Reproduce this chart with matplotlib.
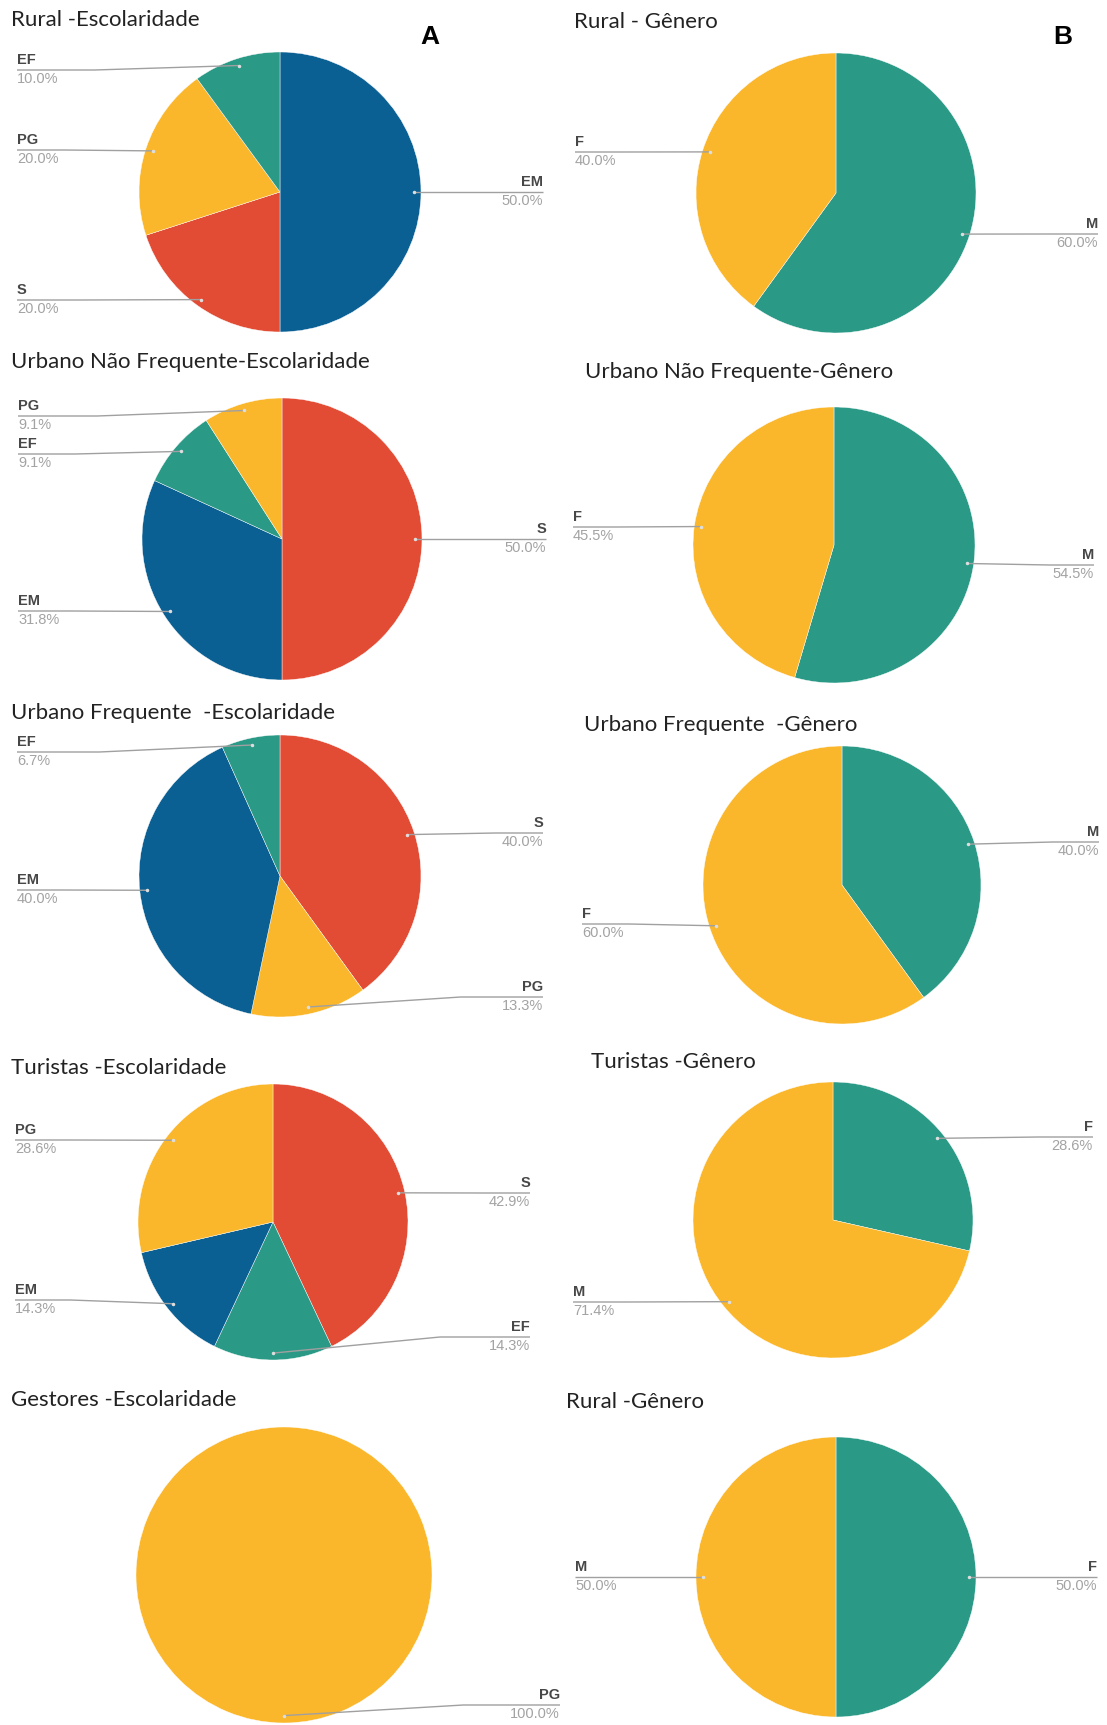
import math
import matplotlib
matplotlib.use("Agg")
import matplotlib.pyplot as plt

W, H = 1107, 1725

# A - Escolaridade (slices listed clockwise from 12 o'clock)
rural_esc_labels = ["EM", "S", "PG", "EF"]
rural_esc_values = [50.0, 20.0, 20.0, 10.0]
urb_nf_esc_labels = ["S", "EM", "EF", "PG"]
urb_nf_esc_values = [50.0, 31.8, 9.1, 9.1]
urb_f_esc_labels = ["S", "PG", "EM", "EF"]
urb_f_esc_values = [40.0, 13.3, 40.0, 6.7]
tur_esc_labels = ["S", "EF", "EM", "PG"]
tur_esc_values = [42.9, 14.3, 14.3, 28.6]
gest_esc_labels = ["PG"]
gest_esc_values = [100.0]

# B - Gênero
rural_gen_labels = ["M", "F"]
rural_gen_values = [60.0, 40.0]
urb_nf_gen_labels = ["M", "F"]
urb_nf_gen_values = [54.5, 45.5]
urb_f_gen_labels = ["M", "F"]
urb_f_gen_values = [40.0, 60.0]
tur_gen_labels = ["F", "M"]
tur_gen_values = [28.6, 71.4]
rural2_gen_labels = ["F", "M"]
rural2_gen_values = [50.0, 50.0]

blue = "#0A5F93"
red = "#E24B34"
yellow = "#FBB72B"
teal = "#2A9986"
esc_colors = {"EM": blue, "S": red, "PG": yellow, "EF": teal}
gen_colors = [teal, yellow]

name_color = "#474747"
pct_color = "#a3a3a3"
line_color = "#a0a0a0"

# layout: title, title pos, ellipse (cx, cy, rx, ry), label text x (left, right),
# per slice: side and leader line y (pixels, from top)
panels = [
    dict(title="Rural -Escolaridade", tpos=(11, 20), ell=(280, 192, 141, 140), tx=(17, 543),
         labels=rural_esc_labels, values=rural_esc_values,
         colors=[esc_colors[l] for l in rural_esc_labels],
         lab=[("R", 192), ("L", 300), ("L", 150), ("L", 70)]),
    dict(title="Urbano Não Frequente-Escolaridade", tpos=(11, 362), ell=(282, 539, 140, 141), tx=(18, 546),
         labels=urb_nf_esc_labels, values=urb_nf_esc_values,
         colors=[esc_colors[l] for l in urb_nf_esc_labels],
         lab=[("R", 539), ("L", 611), ("L", 454), ("L", 416)]),
    dict(title="Urbano Frequente  -Escolaridade", tpos=(11, 713), ell=(280, 876, 141, 141), tx=(17, 543),
         labels=urb_f_esc_labels, values=urb_f_esc_values,
         colors=[esc_colors[l] for l in urb_f_esc_labels],
         lab=[("R", 833), ("R", 997), ("L", 890), ("L", 752)]),
    dict(title="Turistas -Escolaridade", tpos=(11, 1068), ell=(273, 1222, 135, 138), tx=(15, 530),
         labels=tur_esc_labels, values=tur_esc_values,
         colors=[esc_colors[l] for l in tur_esc_labels],
         lab=[("R", 1193), ("R", 1337), ("L", 1300), ("L", 1140)]),
    dict(title="Gestores -Escolaridade", tpos=(11, 1400), ell=(284, 1575, 148, 148), tx=(15, 560),
         labels=gest_esc_labels, values=gest_esc_values,
         colors=[esc_colors[l] for l in gest_esc_labels],
         lab=[("R", 1705)]),
    dict(title="Rural - Gênero", tpos=(574, 22), ell=(836, 193, 140, 140), tx=(575, 1098),
         labels=rural_gen_labels, values=rural_gen_values, colors=gen_colors,
         lab=[("R", 234), ("L", 152)]),
    dict(title="Urbano Não Frequente-Gênero", tpos=(585, 372), ell=(834, 545, 141, 138), tx=(573, 1094),
         labels=urb_nf_gen_labels, values=urb_nf_gen_values, colors=gen_colors,
         lab=[("R", 565), ("L", 527)]),
    dict(title="Urbano Frequente  -Gênero", tpos=(584, 725), ell=(842, 885, 139, 139), tx=(582, 1099),
         labels=urb_f_gen_labels, values=urb_f_gen_values, colors=gen_colors,
         lab=[("R", 842), ("L", 924)]),
    dict(title="Turistas -Gênero", tpos=(591, 1062), ell=(833, 1220, 140, 138), tx=(573, 1093),
         labels=tur_gen_labels, values=tur_gen_values, colors=gen_colors,
         lab=[("R", 1137), ("L", 1302)]),
    dict(title="Rural -Gênero", tpos=(566, 1402), ell=(836, 1577, 140, 140), tx=(575, 1097),
         labels=rural2_gen_labels, values=rural2_gen_values, colors=gen_colors,
         lab=[("R", 1577), ("L", 1577)]),
]

fig = plt.figure(figsize=(W / 100, H / 100), dpi=100)
fig.patch.set_color("white")

# overlay in pixel coordinates for titles / labels / leader lines
over = fig.add_axes([0, 0, 1, 1], zorder=5)
over.set_xlim(0, W)
over.set_ylim(H, 0)
over.axis("off")
over.patch.set_alpha(0)

for p in panels:
    cx, cy, rx, ry = p["ell"]
    ax = fig.add_axes([(cx - rx) / W, 1 - (cy + ry) / H, 2 * rx / W, 2 * ry / H], zorder=1)
    ax.pie(p["values"], colors=p["colors"], startangle=90, counterclock=False,
           radius=1, wedgeprops=dict(linewidth=0.3, edgecolor="white"))
    ax.set_aspect("auto")
    ax.set_xlim(-1, 1)
    ax.set_ylim(-1, 1)
    ax.axis("off")

    over.text(p["tpos"][0], p["tpos"][1], p["title"], fontsize=16, family="Lato",
              color="#222222", ha="left", va="center")

    total = sum(p["values"])
    start = 0.0
    for lbl, val, (side, ly) in zip(p["labels"], p["values"], p["lab"]):
        mid = (start + val / 2) / total * 2 * math.pi
        start += val
        dx = cx + 0.95 * rx * math.sin(mid)
        dy = cy - 0.95 * ry * math.cos(mid)
        if side == "L":
            tx = p["tx"][0]
            ha = "left"
        else:
            tx = p["tx"][1]
            ha = "right"
        knee = tx + 0.35 * (dx - tx)
        over.plot([tx, knee, dx], [ly, ly, dy], color=line_color, lw=1, solid_capstyle="butt")
        over.plot([dx], [dy], "o", ms=1.5, color="#dddddd")
        over.text(tx, ly - 3, lbl, fontsize=10.5, fontweight="bold", family="Liberation Sans",
                  color=name_color, ha=ha, va="bottom")
        over.text(tx, ly + 2, "%.1f%%" % val, fontsize=10.5, family="Liberation Sans",
                  color=pct_color, ha=ha, va="top")

over.text(430, 37, "A", fontsize=19, fontweight="bold", family="Liberation Sans",
          color="black", ha="center", va="center")
over.text(1063, 37, "B", fontsize=19, fontweight="bold", family="Liberation Sans",
          color="black", ha="center", va="center")

fig.savefig("out.png", dpi=100)
